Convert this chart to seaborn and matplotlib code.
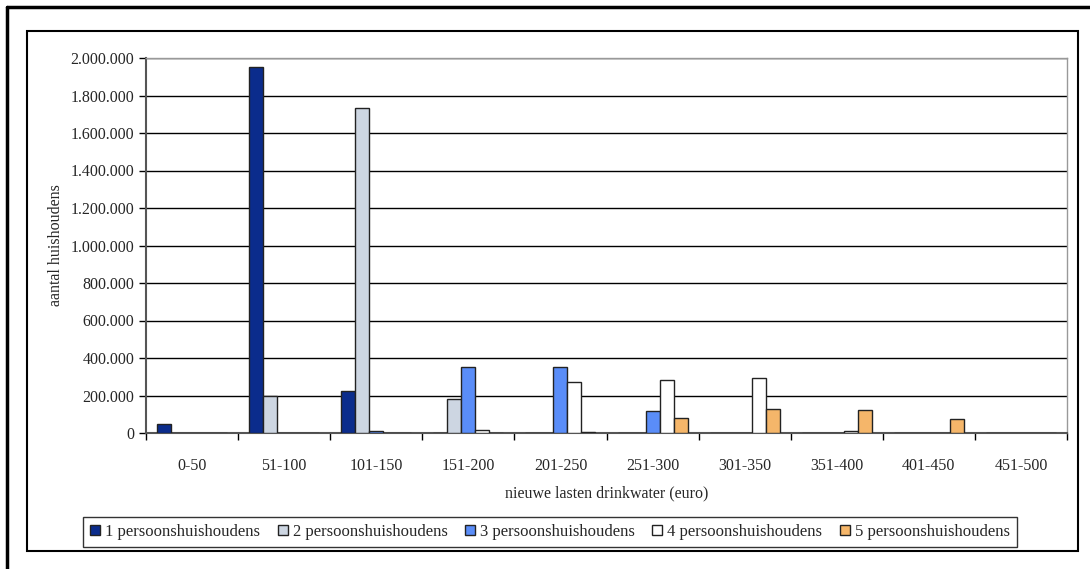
import pandas as pd
import seaborn as sns
import matplotlib.pyplot as plt
from matplotlib.ticker import FuncFormatter, FixedLocator
from matplotlib.lines import Line2D
from matplotlib.patches import Rectangle

# Data
categories = ['0-50', '51-100', '101-150', '151-200', '201-250',
              '251-300', '301-350', '351-400', '401-450', '451-500']
p1 = [50000, 1950000, 222000, 0, 0, 0, 0, 0, 0, 0]
p2 = [0, 196000, 1735000, 182000, 0, 0, 0, 0, 0, 0]
p3 = [0, 0, 12000, 350000, 350000, 115000, 0, 0, 0, 0]
p4 = [0, 0, 0, 18000, 270000, 285000, 295000, 12000, 0, 0]
p5 = [0, 0, 0, 0, 5000, 80000, 128000, 122000, 75000, 0]
series = ['1 persoonshuishoudens', '2 persoonshuishoudens', '3 persoonshuishoudens',
          '4 persoonshuishoudens', '5 persoonshuishoudens']
colors = ['#0B2C8C', '#CDD6E2', '#5A8DF8', '#FFFFFF', '#F5B66A']

rows = []
for name, vals in zip(series, [p1, p2, p3, p4, p5]):
    for c, v in zip(categories, vals):
        rows.append({'klasse': c, 'aantal': v, 'huishouden': name})
df = pd.DataFrame(rows)

sns.set_style('white')
plt.rcParams['font.family'] = ['Liberation Serif', 'DejaVu Serif']
plt.rcParams['font.size'] = 11

fig = plt.figure(figsize=(10.9, 5.69), dpi=100)
ax = fig.add_axes([146 / 1090, 1 - 433 / 569, (1067 - 146) / 1090, (433 - 58) / 569])

sns.barplot(data=df, x='klasse', y='aantal', hue='huishouden', order=categories,
            hue_order=series, palette=colors, width=0.76, gap=0,
            edgecolor='#222222', linewidth=1, saturation=1, ax=ax, zorder=3)

ax.set_ylim(0, 2000000)
ax.set_xlim(-0.5, 9.5)
ax.set_yticks(range(0, 2000001, 200000))
ax.yaxis.set_major_formatter(FuncFormatter(lambda v, p: f'{int(v):,}'.replace(',', '.')))
ax.yaxis.grid(True, color='black', linewidth=1)
ax.set_axisbelow(True)

ax.tick_params(axis='y', direction='out', length=5, width=1, color='black', left=True, labelsize=11.5)
ax.tick_params(axis='x', which='major', length=0, pad=18, labelsize=11.5)
ax.xaxis.set_minor_locator(FixedLocator([i - 0.5 for i in range(11)]))
ax.tick_params(axis='x', which='minor', direction='out', length=5, width=1, color='black', bottom=True)

ax.set_xlabel('nieuwe lasten drinkwater (euro)', fontsize=11.5, labelpad=8)
ax.set_ylabel('aantal huishoudens', fontsize=11.5, labelpad=5)

ax.spines['left'].set_color('#555555')
ax.spines['left'].set_linewidth(1.5)
ax.spines['bottom'].set_color('#555555')
ax.spines['bottom'].set_linewidth(1.5)
for s in ['top', 'right']:
    ax.spines[s].set_color('#999999')
    ax.spines[s].set_linewidth(1)

ax.legend(loc='center', bbox_to_anchor=(550 / 1090, 1 - 532 / 569),
          bbox_transform=fig.transFigure, ncol=5, frameon=True, fancybox=False,
          edgecolor='black', fontsize=12, handlelength=0.6, handleheight=0.6,
          handletextpad=0.3, columnspacing=1.05, borderpad=0.4)
ax.get_legend().get_frame().set_linewidth(1)

# Chart area and outer frames
fig.patches.append(Rectangle((27 / 1090, 1 - 551 / 569), (1078 - 27) / 1090, (551 - 31) / 569,
                             transform=fig.transFigure, fill=False, edgecolor='black', linewidth=1.5))
fig.lines.append(Line2D([7 / 1090, 1], [1 - 7 / 569, 1 - 7 / 569], transform=fig.transFigure,
                        color='black', linewidth=2.5))
fig.lines.append(Line2D([7 / 1090, 7 / 1090], [0, 1 - 7 / 569], transform=fig.transFigure,
                        color='black', linewidth=2.5))

plt.savefig('out.png', dpi=100)
